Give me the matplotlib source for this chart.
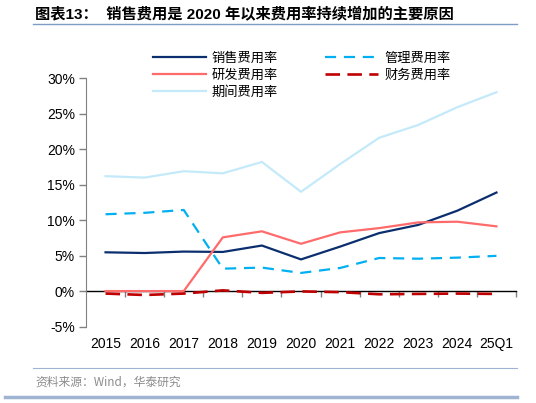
import matplotlib
matplotlib.use('Agg')
import matplotlib.pyplot as plt
from matplotlib.lines import Line2D
from matplotlib.ticker import FuncFormatter

# data (%)
years = ['2015', '2016', '2017', '2018', '2019', '2020', '2021', '2022', '2023', '2024', '25Q1']
sales = [5.5, 5.4, 5.6, 5.55, 6.45, 4.5, 6.3, 8.2, 9.35, 11.35, 13.9]
admin = [10.85, 11.05, 11.45, 3.2, 3.35, 2.6, 3.3, 4.7, 4.6, 4.75, 5.0]
rnd = [0.05, 0.05, 0.05, 7.6, 8.45, 6.7, 8.3, 8.9, 9.7, 9.8, 9.15]
fin = [-0.3, -0.5, -0.3, 0.15, -0.2, 0.0, -0.1, -0.4, -0.35, -0.3, -0.35]
period = [16.2, 16.0, 16.9, 16.6, 18.2, 14.0, 17.9, 21.6, 23.4, 25.9, 28.0]

latin = ['Liberation Sans', 'Noto Sans CJK SC']
cjk = ['Noto Sans CJK SC', 'DejaVu Sans']

W, H = 536, 403
fig = plt.figure(figsize=(W / 100, H / 100), dpi=100)
ax = fig.add_axes([86 / W, 1 - 327 / H, 430 / W, 249 / H])

x = list(range(len(years)))
l_sales, = ax.plot(x, sales, color='#0b2f6e', lw=1.6, label='销售费用率')
l_admin, = ax.plot(x, admin, color='#00b0f0', lw=1.6, dashes=(5, 3.5), label='管理费用率')
l_rnd, = ax.plot(x, rnd, color='#ff6b6b', lw=1.6, label='研发费用率')
l_fin, = ax.plot(x, fin, color='#c00000', lw=1.9, dashes=(5.5, 2.8), label='财务费用率')
l_per, = ax.plot(x, period, color='#c4eafa', lw=1.6, label='期间费用率')

ax.set_xlim(-0.5, len(years) - 0.5)
ax.set_ylim(-5, 30)
ax.set_yticks(range(-5, 31, 5))
ax.yaxis.set_major_formatter(FuncFormatter(lambda v, p: f'{v:.0f}%'))

for s in ['top', 'right', 'bottom']:
    ax.spines[s].set_visible(False)
ax.spines['left'].set_color('#808080')
ax.tick_params(axis='y', direction='out', length=5, width=1, color='#808080',
               pad=3, labelsize=10, labelcolor='black')

ax.set_xticks(x)
ax.set_xticklabels(years)
ax.tick_params(axis='x', length=0, pad=7, labelsize=10)
for lab in ax.get_xticklabels() + ax.get_yticklabels():
    lab.set_family(latin)

# zero line with boundary ticks
sec = ax.secondary_xaxis(5 / 35)
sec.set_xticks([i + 0.5 for i in x])
sec.set_xticklabels([])
sec.spines['bottom'].set_color('black')
sec.spines['bottom'].set_linewidth(1)
sec.tick_params(axis='x', direction='out', length=4, width=1, color='#808080')

leg = fig.legend(handles=[l_sales, l_rnd, l_per, l_admin, l_fin], ncol=2,
                 loc='upper left', bbox_to_anchor=(153 / W, 1 - 52 / H),
                 frameon=False, prop={'family': cjk, 'size': 9.5},
                 handlelength=4.0, handletextpad=0.45, columnspacing=3.6,
                 labelspacing=0.3, borderaxespad=0, borderpad=0)

# title and frame lines
fig.text(35 / W, 1 - 14 / H, '图表13：  销售费用是 2020 年以来费用率持续增加的主要原因',
         family=latin, fontsize=11, fontweight='bold', va='center', ha='left')
fig.add_artist(Line2D([33 / W, 517 / W], [1 - 24 / H, 1 - 24 / H], color='#7f9cc6', lw=1))
fig.add_artist(Line2D([33 / W, 517 / W], [1 - 368 / H, 1 - 368 / H], color='#9fb3d3', lw=0.8))
fig.add_artist(Line2D([5 / W, 517 / W], [1 - 397 / H, 1 - 397 / H], color='#9fb3d3', lw=2.5))
fig.text(35 / W, 1 - 382 / H, '资料来源：Wind，华泰研究', family=cjk, fontsize=8.5,
         color='#8c8c8c', va='center', ha='left')

fig.savefig('out.png', dpi=100)
